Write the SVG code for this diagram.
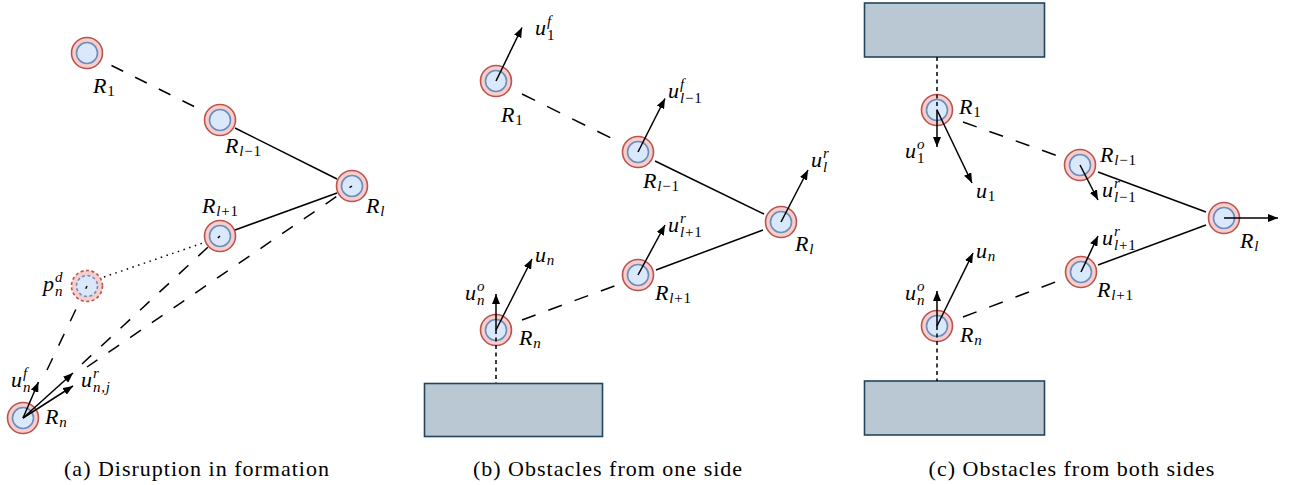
<svg xmlns="http://www.w3.org/2000/svg" width="1296" height="485" viewBox="0 0 1296 485">
<style>
.ro{fill:#f8cecc;stroke:#b85450;stroke-width:1.6}
.ri{fill:#dae8fc;stroke:#6c8ebf;stroke-width:1.6}
.dn{stroke-dasharray:3 2.5}
.obs{fill:#bac8d3;stroke:#23445d;stroke-width:1.6}
.ln{stroke:#000;stroke-width:1.5;fill:none}
.da{stroke-dasharray:14.5 13.5}
.vd{stroke-dasharray:4 3.5}
.dot{stroke-dasharray:1.5 4.5}
.ar{marker-end:url(#ah)}
.m{font-style:italic;font-size:22px;letter-spacing:0.8px;fill:#000}
.s{font-size:15px}
.up{font-style:normal}
.cap{font-size:22px;letter-spacing:1px;text-anchor:middle;fill:#000}
</style>
<defs>
<marker id="ah" markerWidth="10" markerHeight="8" refX="10" refY="4" orient="auto" markerUnits="userSpaceOnUse"><path d="M0,0 L10,4 L0,8 Z" fill="#000"/></marker>
</defs>

<!-- obstacles -->
<g id="obstacle-b"><rect class="obs" x="424.5" y="383.5" width="178" height="53"/></g>
<g id="obstacle-c-top"><rect class="obs" x="864.5" y="3" width="180" height="54"/></g>
<g id="obstacle-c-bottom"><rect class="obs" x="864.5" y="381" width="180" height="54"/></g>

<g font-family="'Liberation Serif', serif">
<!-- panel a nodes -->
<g id="a-R1"><circle class="ro" cx="87" cy="53" r="15.5"/><circle class="ri" cx="87" cy="53" r="10.5"/><text class="m" x="93" y="93">R<tspan class="s up" dy="3">1</tspan></text></g>
<g id="a-Rlm1"><circle class="ro" cx="220" cy="120" r="15.5"/><circle class="ri" cx="220" cy="120" r="10.5"/><text class="m" x="225" y="153">R<tspan class="s" dy="3">l</tspan><tspan class="s up">−1</tspan></text></g>
<g id="a-Rl"><circle class="ro" cx="352" cy="186" r="15.5"/><circle class="ri" cx="352" cy="186" r="10.5"/><text class="m" x="366" y="213">R<tspan class="s" dy="3">l</tspan></text></g>
<g id="a-Rlp1"><circle class="ro" cx="220" cy="236" r="15.5"/><circle class="ri" cx="220" cy="236" r="10.5"/><text class="m" x="202" y="213">R<tspan class="s" dy="3">l</tspan><tspan class="s up">+1</tspan></text></g>
<g id="a-pnd"><circle class="ro dn" cx="87" cy="286" r="15.5"/><circle class="ri dn" cx="87" cy="286" r="10.5"/><text class="m" x="43" y="291">p<tspan class="s" x="55" dy="-9">d</tspan><tspan class="s" x="55" dy="14">n</tspan></text></g>
<g id="a-Rn"><circle class="ro" cx="23" cy="418" r="15.5"/><circle class="ri" cx="23" cy="418" r="10.5"/><text class="m" x="45" y="424">R<tspan class="s" dy="3">n</tspan></text></g>

<!-- panel b nodes -->
<g id="b-R1"><circle class="ro" cx="496" cy="81" r="15.5"/><circle class="ri" cx="496" cy="81" r="10.5"/><text class="m" x="501" y="122">R<tspan class="s up" dy="3">1</tspan></text></g>
<g id="b-Rlm1"><circle class="ro" cx="638" cy="152" r="15.5"/><circle class="ri" cx="638" cy="152" r="10.5"/><text class="m" x="643" y="188">R<tspan class="s" dy="3">l</tspan><tspan class="s up">−1</tspan></text></g>
<g id="b-Rl"><circle class="ro" cx="781" cy="222" r="15.5"/><circle class="ri" cx="781" cy="222" r="10.5"/><text class="m" x="795" y="251">R<tspan class="s" dy="3">l</tspan></text></g>
<g id="b-Rlp1"><circle class="ro" cx="638" cy="275" r="15.5"/><circle class="ri" cx="638" cy="275" r="10.5"/><text class="m" x="655" y="300">R<tspan class="s" dy="3">l</tspan><tspan class="s up">+1</tspan></text></g>
<g id="b-Rn"><circle class="ro" cx="496" cy="330" r="15.5"/><circle class="ri" cx="496" cy="330" r="10.5"/><text class="m" x="519" y="345">R<tspan class="s" dy="3">n</tspan></text></g>

<!-- panel c nodes -->
<g id="c-R1"><circle class="ro" cx="937" cy="110" r="15.5"/><circle class="ri" cx="937" cy="110" r="10.5"/><text class="m" x="959" y="114">R<tspan class="s up" dy="3">1</tspan></text></g>
<g id="c-Rlm1"><circle class="ro" cx="1080" cy="165" r="15.5"/><circle class="ri" cx="1080" cy="165" r="10.5"/><text class="m" x="1100" y="162">R<tspan class="s" dy="3">l</tspan><tspan class="s up">−1</tspan></text></g>
<g id="c-Rl"><circle class="ro" cx="1224" cy="218" r="15.5"/><circle class="ri" cx="1224" cy="218" r="10.5"/><text class="m" x="1240" y="248">R<tspan class="s" dy="3">l</tspan></text></g>
<g id="c-Rlp1"><circle class="ro" cx="1081" cy="272" r="15.5"/><circle class="ri" cx="1081" cy="272" r="10.5"/><text class="m" x="1097" y="297">R<tspan class="s" dy="3">l</tspan><tspan class="s up">+1</tspan></text></g>
<g id="c-Rn"><circle class="ro" cx="937" cy="326" r="15.5"/><circle class="ri" cx="937" cy="326" r="10.5"/><text class="m" x="960" y="342">R<tspan class="s" dy="3">n</tspan></text></g>
</g>

<!-- connectors -->
<g id="connectors">
  <line class="ln" style="stroke-dasharray:13 13.4" x1="111.5" y1="65.5" x2="195" y2="107"/>
  <line class="ln" x1="235" y1="128" x2="337" y2="179"/>
  <line class="ln" x1="235" y1="230" x2="337" y2="193"/>
  <line class="ln dot" x1="104" y1="277" x2="203" y2="243"/>
  <line class="ln" style="stroke-dasharray:3 13.6 13 13.5 13 13.5 13 13.5 13 13.5 13 13.5 13 13.5 13 40" x1="220" y1="236" x2="82" y2="364"/>
  <line class="ln" style="stroke-dasharray:3 16 13 13.3 13 13.3 13 13.3 13 13.3 13 13.3 13 13.3 13 13.3 13 13.3 13 13.3 13 13.3 13 13.3 13 40" x1="352" y1="186" x2="87" y2="367"/>
  <line class="ln" style="stroke-dasharray:3 23 13 14 13 14 13 40" x1="87" y1="286" x2="47" y2="370"/>
  <line class="ln ar" x1="23" y1="418" x2="38.5" y2="382"/>
  <line class="ln ar" x1="23" y1="418" x2="73" y2="373"/>
  <line class="ln ar" x1="23" y1="418" x2="73" y2="386"/>
  <line class="ln da" x1="522" y1="94" x2="611" y2="138"/>
  <line class="ln" x1="655" y1="161" x2="764" y2="214"/>
  <line class="ln" x1="656" y1="270" x2="763" y2="230"/>
  <line class="ln da" x1="522" y1="320" x2="617" y2="285"/>
  <line class="ln vd" x1="496" y1="330" x2="496" y2="383"/>
  <line class="ln ar" x1="496" y1="81" x2="522" y2="27.5"/>
  <line class="ln ar" x1="638" y1="152" x2="665" y2="98.5"/>
  <line class="ln ar" x1="781" y1="222" x2="808" y2="170"/>
  <line class="ln ar" x1="638" y1="275" x2="665" y2="225"/>
  <line class="ln ar" x1="496" y1="330" x2="532" y2="259"/>
  <line class="ln ar" x1="496" y1="330" x2="496" y2="294"/>
  <line class="ln vd" x1="937" y1="57" x2="937" y2="110"/>
  <line class="ln da" x1="963" y1="122" x2="1058" y2="156"/>
  <line class="ln" x1="1098" y1="172" x2="1206" y2="212"/>
  <line class="ln" x1="1098" y1="265" x2="1206" y2="225"/>
  <line class="ln da" x1="963" y1="317" x2="1058" y2="281"/>
  <line class="ln vd" x1="937" y1="326" x2="937" y2="381"/>
  <line class="ln ar" x1="937" y1="110" x2="937" y2="147"/>
  <line class="ln ar" x1="937" y1="110" x2="972" y2="183"/>
  <line class="ln ar" x1="1080" y1="165" x2="1098" y2="200"/>
  <line class="ln ar" x1="1224" y1="218" x2="1278" y2="218"/>
  <line class="ln ar" x1="1081" y1="272" x2="1098" y2="236"/>
  <line class="ln ar" x1="937" y1="326" x2="973" y2="253"/>
  <line class="ln ar" x1="937" y1="326" x2="937" y2="291"/>
</g>

<g id="labels" font-family="'Liberation Serif', serif">
  <text class="m" x="11" y="387">u<tspan class="s" x="23" dy="-9">f</tspan><tspan class="s" x="23" dy="14">n</tspan></text>
  <text class="m" x="81" y="387">u<tspan class="s" x="93" dy="-9">r</tspan><tspan class="s" x="93" dy="14">n,j</tspan></text>
  <text class="m" x="535" y="35">u<tspan class="s" x="547" dy="-9">f</tspan><tspan class="s up" x="547" dy="14">1</tspan></text>
  <text class="m" x="668" y="98">u<tspan class="s" x="680" dy="-9">f</tspan><tspan class="s" x="680" dy="14">l</tspan><tspan class="s up">−1</tspan></text>
  <text class="m" x="811" y="167">u<tspan class="s" x="823" dy="-9">r</tspan><tspan class="s" x="823" dy="14">l</tspan></text>
  <text class="m" x="668" y="232">u<tspan class="s" x="680" dy="-9">r</tspan><tspan class="s" x="680" dy="14">l</tspan><tspan class="s up">+1</tspan></text>
  <text class="m" x="535" y="262">u<tspan class="s" dy="3">n</tspan></text>
  <text class="m" x="465" y="300">u<tspan class="s" x="477" dy="-9">o</tspan><tspan class="s" x="477" dy="14">n</tspan></text>
  <text class="m" x="905" y="158">u<tspan class="s" x="917" dy="-9">o</tspan><tspan class="s up" x="917" dy="14">1</tspan></text>
  <text class="m" x="976" y="198">u<tspan class="s up" dy="3">1</tspan></text>
  <text class="m" x="1102" y="197">u<tspan class="s" x="1114" dy="-9">r</tspan><tspan class="s" x="1114" dy="14">l</tspan><tspan class="s up">−1</tspan></text>
  <text class="m" x="1102" y="245">u<tspan class="s" x="1114" dy="-9">r</tspan><tspan class="s" x="1114" dy="14">l</tspan><tspan class="s up">+1</tspan></text>
  <text class="m" x="976" y="258">u<tspan class="s" dy="3">n</tspan></text>
  <text class="m" x="905" y="300">u<tspan class="s" x="917" dy="-9">o</tspan><tspan class="s" x="917" dy="14">n</tspan></text>
</g>

<g id="captions" font-family="'Liberation Serif', serif">
  <text class="cap" x="197" y="476">(a) Disruption in formation</text>
  <text class="cap" x="608" y="476">(b) Obstacles from one side</text>
  <text class="cap" x="1072" y="476">(c) Obstacles from both sides</text>
</g>
</svg>
